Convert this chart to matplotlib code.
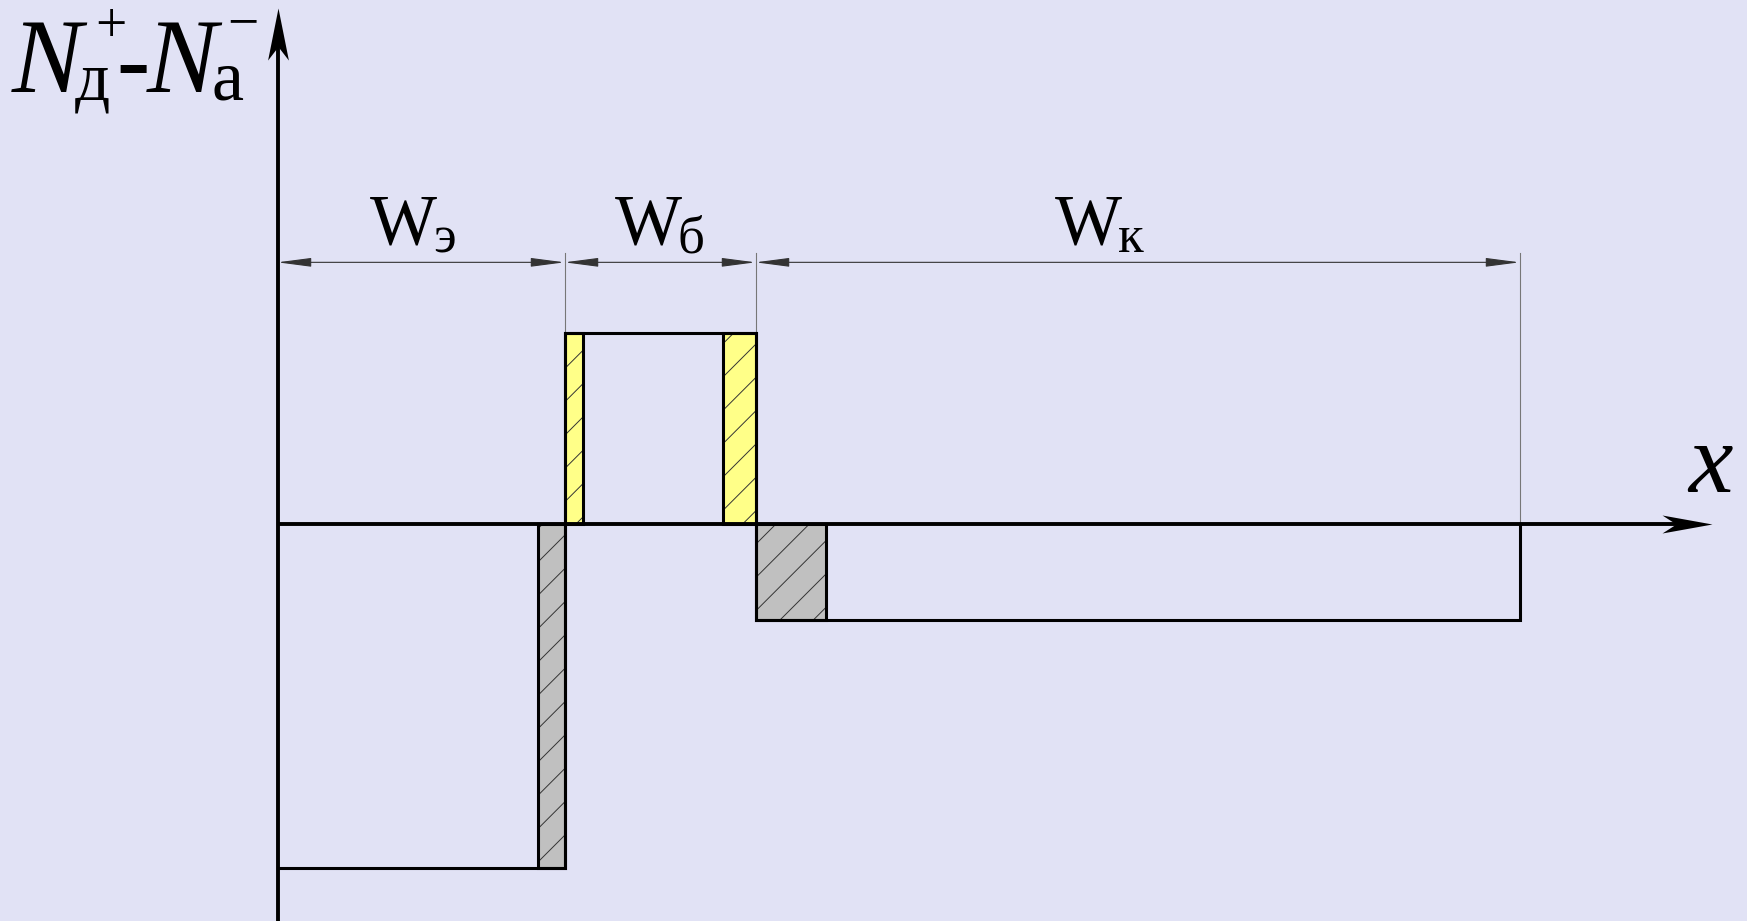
import numpy as np
import matplotlib
matplotlib.use("Agg")
import matplotlib.pyplot as plt
from matplotlib.path import Path

SERIF = 'Liberation Serif'
plt.rcParams['hatch.linewidth'] = 0.7

# region boundaries along x (emitter / base / collector)
x_bounds = [0.0, 2.87, 4.78, 12.42]
region_names = ['W', 'W', 'W']
region_subs = ['э', 'б', 'к']

# net doping level in each region
doping = [-3.6, 2.0, -1.0]

# space-charge layers: left edge, width, height, colour
layer_left = [2.60, 2.87, 4.45, 4.78]
layer_width = [0.27, 0.18, 0.33, 0.70]
layer_height = [-3.6, 2.0, 2.0, -1.0]
layer_color = ['#c0c0c0', '#ffff88', '#ffff88', '#c0c0c0']

bg = '#e1e2f5'
fig = plt.figure(figsize=(17.47, 9.21), dpi=100, facecolor=bg)
ax = fig.add_axes([0, 0, 1, 1], facecolor=bg)
ax.set_xlim(-2.775, 14.695)
ax.set_ylim(-4.157, 5.487)
ax.axis('off')

# hatched depletion layers
ax.bar(layer_left, layer_height, width=layer_width, align='edge', bottom=0,
       color=layer_color, edgecolor='#333333', hatch='/', linewidth=0, zorder=2)
ax.bar(layer_left, layer_height, width=layer_width, align='edge', bottom=0,
       fill=False, edgecolor='black', linewidth=2.2, zorder=3)

# doping profile outline
px = [x_bounds[0], x_bounds[1], x_bounds[1], x_bounds[2], x_bounds[2], x_bounds[3], x_bounds[3]]
py = [doping[0], doping[0], doping[1], doping[1], doping[2], doping[2], 0]
ax.plot(px, py, color='black', lw=2.2, zorder=4, solid_joinstyle='miter')

# notched arrow heads for the axes
up_head = Path([(0, 0), (-0.2, -1), (0, -0.74), (0.2, -1), (0, 0)],
               [Path.MOVETO, Path.LINETO, Path.LINETO, Path.LINETO, Path.CLOSEPOLY])
right_head = Path([(0, 0), (-1, 0.18), (-0.72, 0), (-1, -0.18), (0, 0)],
                  [Path.MOVETO, Path.LINETO, Path.LINETO, Path.LINETO, Path.CLOSEPOLY])

x_tip, y_tip = 14.345, 5.403
ax.plot([0, x_tip - 0.35], [0, 0], color='black', lw=2.8, solid_capstyle='butt', zorder=5)
ax.plot([0, 0], [-4.3, y_tip - 0.4], color='black', lw=2.8, solid_capstyle='butt', zorder=5)
ax.plot([x_tip], [0], marker=right_head, ms=72, color='black', mew=0, zorder=6)
ax.plot([0], [y_tip], marker=up_head, ms=75, color='black', mew=0, zorder=6)

# dimension lines
dim_y = 2.74
ext_bottom = [doping[1], doping[1], 0]
for x, yb in zip(x_bounds[1:], ext_bottom):
    ax.plot([x, x], [dim_y + 0.1, yb], color='#777777', lw=0.8, zorder=1)
for a, b in zip(x_bounds[:-1], x_bounds[1:]):
    ax.annotate('', xy=(b, dim_y), xytext=(a, dim_y),
                arrowprops=dict(arrowstyle='<|-|>,head_length=1.3,head_width=0.17',
                                mutation_scale=16, lw=0.8, color='#333333',
                                shrinkA=0, shrinkB=0))

# region width labels, subscript hung off the right edge of each W
name_x = [0.925, 3.375, 7.775]
for nx, name, sub in zip(name_x, region_names, region_subs):
    w = ax.text(nx, 2.942, name, fontsize=51, family=SERIF, ha='left', va='baseline')
    ax.annotate(sub, xy=(1, 0), xycoords=w, xytext=(-3, -3.7), textcoords='offset points',
                fontsize=38, family=SERIF, ha='left', va='bottom')

# vertical axis label
ax.text(-2.66, 4.524, 'N', fontsize=76, family=SERIF, style='italic', ha='left', va='baseline')
ax.text(-2.03, 4.44, 'д', fontsize=50, family=SERIF, ha='left', va='baseline')
ax.text(-1.665, 5.19, '+', fontsize=40, family=SERIF, ha='center', va='center')
ax.text(-1.44, 4.524, '-', fontsize=72, family=SERIF, fontweight='bold', ha='center', va='baseline')
ax.text(-1.31, 4.524, 'N', fontsize=76, family=SERIF, style='italic', ha='left', va='baseline')
ax.text(-0.66, 4.44, 'a', fontsize=52, family=SERIF, ha='left', va='baseline')
ax.text(-0.345, 5.22, '\u2212', fontsize=40, family=SERIF, ha='center', va='center')

# horizontal axis label
ax.text(14.325, 0.335, 'x', fontsize=72, family=SERIF, style='italic', ha='center', va='baseline')

fig.savefig('out.png', dpi=100, facecolor=bg)
